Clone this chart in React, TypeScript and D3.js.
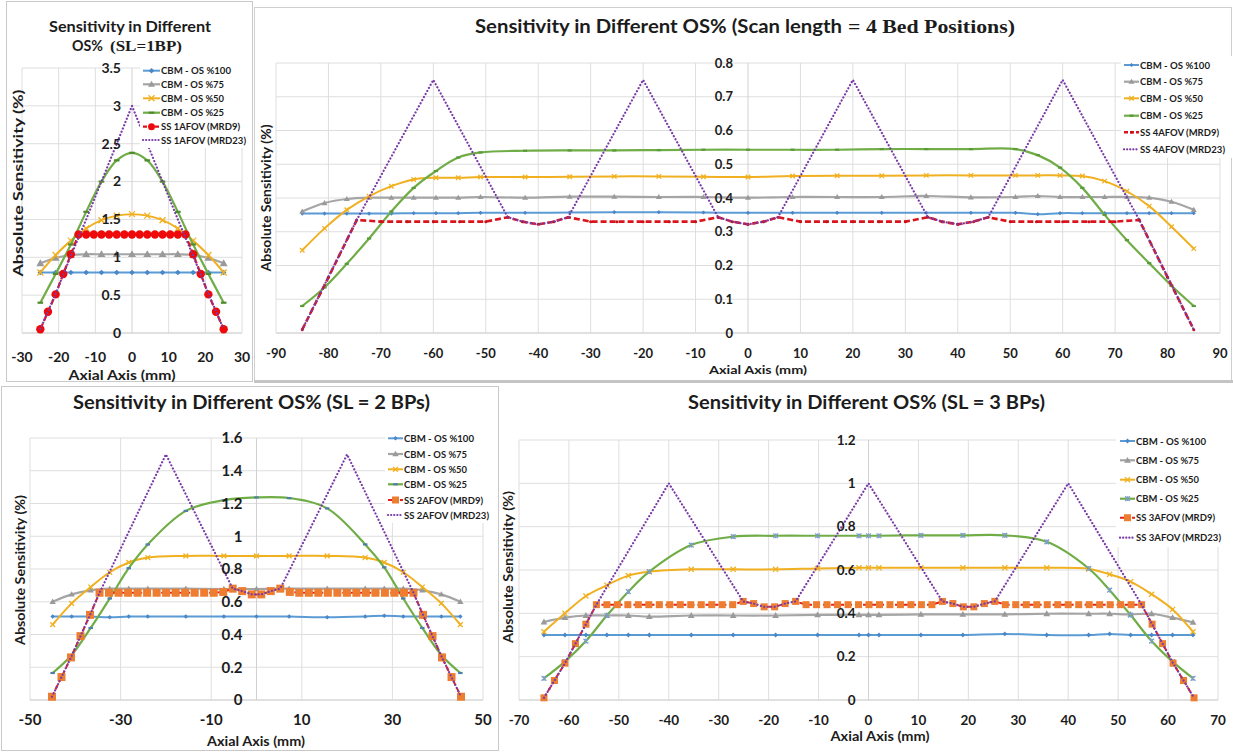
import React from "react"
import * as d3 from "d3"

// ---- panel 1: SL = 1 BP ----
const P1_X = [-25, -20.83, -16.67, -12.5, -8.33, -4.17, 0, 4.17, 8.33, 12.5, 16.67, 20.83, 25]
const P1_OS100 = [0.8, 0.8, 0.8, 0.8, 0.8, 0.8, 0.8, 0.8, 0.8, 0.8, 0.8, 0.8, 0.8]
const P1_OS75 = [0.92, 0.99, 1.03, 1.04, 1.04, 1.04, 1.04, 1.04, 1.04, 1.04, 1.03, 0.99, 0.92]
const P1_OS50 = [0.8, 1.03, 1.22, 1.38, 1.49, 1.55, 1.57, 1.55, 1.49, 1.38, 1.22, 1.03, 0.8]
const P1_OS25 = [0.4, 0.78, 1.17, 1.6, 2.0, 2.28, 2.38, 2.28, 2.0, 1.6, 1.17, 0.78, 0.4]
const P1_SS_X = [-25, -22.92, -20.83, -18.75, -16.67, -14.58, -12.5, -10.42, -8.33, -6.25, -4.17, -2.08, 0,
  2.08, 4.17, 6.25, 8.33, 10.42, 12.5, 14.58, 16.67, 18.75, 20.83, 22.92, 25]
const P1_MRD9 = [0.05, 0.28, 0.51, 0.78, 1.04, 1.3, 1.3, 1.3, 1.3, 1.3, 1.3, 1.3, 1.3,
  1.3, 1.3, 1.3, 1.3, 1.3, 1.3, 1.3, 1.04, 0.78, 0.51, 0.28, 0.05]
const P1_MRD23 = [0.05, 0.52, 1.02, 1.5, 2.0, 2.5, 3.0, 2.5, 2.0, 1.5, 1.02, 0.52, 0.05]

// ---- panel 2: 4 bed positions ----
const P2_X = [-85, -80.75, -76.5, -72.25, -68, -63.75, -59.5, -55.25, -51, -42.5, -34, -25.5, -17, -8.5, 0,
  8.5, 17, 25.5, 34, 42.5, 51, 55.25, 59.5, 63.75, 68, 72.25, 76.5, 80.75, 85]
const P2_OS100 = [0.354, 0.354, 0.354, 0.354, 0.354, 0.355, 0.355, 0.355, 0.356, 0.356, 0.357, 0.358, 0.358, 0.357, 0.356,
  0.356, 0.356, 0.356, 0.356, 0.356, 0.356, 0.352, 0.355, 0.355, 0.355, 0.355, 0.355, 0.355, 0.355]
const P2_OS75 = [0.36, 0.385, 0.397, 0.401, 0.401, 0.401, 0.401, 0.401, 0.403, 0.401, 0.404, 0.404, 0.403, 0.403, 0.401,
  0.403, 0.403, 0.403, 0.406, 0.402, 0.403, 0.406, 0.403, 0.403, 0.403, 0.403, 0.401, 0.389, 0.365]
const P2_OS50 = [0.245, 0.31, 0.365, 0.405, 0.435, 0.455, 0.46, 0.46, 0.462, 0.462, 0.463, 0.464, 0.464, 0.463, 0.462,
  0.465, 0.466, 0.466, 0.467, 0.467, 0.467, 0.467, 0.467, 0.465, 0.45, 0.42, 0.376, 0.315, 0.25]
const P2_OS25 = [0.08, 0.135, 0.205, 0.28, 0.36, 0.43, 0.48, 0.52, 0.535, 0.54, 0.541, 0.541, 0.542, 0.543, 0.543,
  0.543, 0.543, 0.545, 0.545, 0.545, 0.545, 0.527, 0.49, 0.43, 0.35, 0.275, 0.207, 0.14, 0.08]
const P2_MRD9_X = [-85, -80, -74.6, -70, -65, -60, -55, -50, -45.8, -43, -40, -37, -34.3, -30, -25, -20, -15, -10,
  -5.7, -3, 0, 3, 5.7, 10, 15, 20, 25, 30, 34.3, 37, 40, 43, 45.8, 50, 55, 60, 65, 70, 74.6, 80, 85]
const P2_MRD9 = [0.01, 0.165, 0.335, 0.33, 0.33, 0.33, 0.33, 0.33, 0.343, 0.33, 0.322, 0.33, 0.343, 0.33, 0.33, 0.33, 0.33, 0.33,
  0.343, 0.33, 0.322, 0.33, 0.343, 0.33, 0.33, 0.33, 0.33, 0.33, 0.343, 0.33, 0.322, 0.33, 0.343, 0.33, 0.33, 0.33, 0.33, 0.33, 0.335, 0.165, 0.01]
const P2_MRD23_X = [-85, -74.6, -60, -45.8, -43, -40, -37, -34.3, -20, -5.7, -3, 0, 3, 5.7, 20, 34.3, 37, 40, 43, 45.8, 60, 74.6, 85]
const P2_MRD23 = [0.01, 0.335, 0.75, 0.343, 0.33, 0.322, 0.33, 0.343, 0.75, 0.343, 0.33, 0.322, 0.33, 0.343, 0.75,
  0.343, 0.33, 0.322, 0.33, 0.343, 0.75, 0.335, 0.01]

// ---- panel 3: SL = 2 BPs ----
const P3_X = [-45, -40.8, -36.6, -32.4, -28.2, -24, -15.6, -7.2, 0, 7.2, 15.6, 24, 28.2, 32.4, 36.6, 40.8, 45]
const P3_OS100 = [0.51, 0.51, 0.51, 0.505, 0.51, 0.51, 0.51, 0.51, 0.51, 0.51, 0.505, 0.51, 0.515, 0.51, 0.51, 0.51, 0.51]
const P3_OS75 = [0.6, 0.645, 0.67, 0.68, 0.68, 0.68, 0.68, 0.678, 0.678, 0.68, 0.68, 0.68, 0.68, 0.68, 0.67, 0.645, 0.6]
const P3_OS50 = [0.46, 0.59, 0.69, 0.78, 0.84, 0.87, 0.88, 0.88, 0.88, 0.88, 0.88, 0.87, 0.84, 0.78, 0.69, 0.59, 0.46]
const P3_OS25 = [0.165, 0.275, 0.44, 0.62, 0.805, 0.95, 1.155, 1.22, 1.237, 1.233, 1.17, 0.95, 0.81, 0.62, 0.44, 0.275, 0.165]
const P3_MRD9_X = [-45.15, -43.05, -40.95, -38.85, -36.75, -34.65, -32.55, -30.45, -28.35, -26.25, -24.15, -22.05,
  -19.95, -17.85, -15.75, -13.65, -11.55, -9.45, -7.35, -5.25, -3.15, -1.05, 1.05, 3.15, 5.25, 7.35, 9.45, 11.55,
  13.65, 15.75, 17.85, 19.95, 22.05, 24.15, 26.25, 28.35, 30.45, 32.55, 34.65, 36.75, 38.85, 40.95, 43.05, 45.15]
const P3_MRD9 = [0.02, 0.14, 0.26, 0.39, 0.52, 0.655, 0.655, 0.655, 0.655, 0.655, 0.655, 0.655,
  0.655, 0.655, 0.655, 0.655, 0.655, 0.655, 0.66, 0.68, 0.665, 0.645, 0.645, 0.665, 0.68, 0.66, 0.655, 0.655,
  0.655, 0.655, 0.655, 0.655, 0.655, 0.655, 0.655, 0.655, 0.655, 0.655, 0.655, 0.52, 0.39, 0.26, 0.14, 0.02]
const P3_MRD23_X = [-45.15, -43.05, -40.95, -38.85, -36.75, -34.65, -20, -5.25, -3.15, -1.05, 1.05, 3.15, 5.25, 20,
  34.65, 36.75, 38.85, 40.95, 43.05, 45.15]
const P3_MRD23 = [0.02, 0.14, 0.26, 0.39, 0.52, 0.655, 1.5, 0.68, 0.665, 0.645, 0.645, 0.665, 0.68, 1.5,
  0.655, 0.52, 0.39, 0.26, 0.14, 0.02]

// ---- panel 4: SL = 3 BPs ----
const P4_X = [-65, -60.8, -56.6, -52.4, -48.1, -43.9, -35.5, -27.1, -18.6, -10.2, -1.9, 0, 2.1, 10.5, 18.9, 27.3,
  35.7, 44.1, 48.3, 52.5, 56.7, 60.9, 65]
const P4_OS100 = [0.3, 0.3, 0.3, 0.3, 0.3, 0.3, 0.3, 0.3, 0.3, 0.3, 0.3, 0.3, 0.3, 0.3, 0.3, 0.305,
  0.3, 0.3, 0.305, 0.3, 0.3, 0.3, 0.3]
const P4_OS75 = [0.36, 0.38, 0.39, 0.39, 0.39, 0.385, 0.39, 0.39, 0.39, 0.393, 0.393, 0.393, 0.393, 0.395, 0.395, 0.395,
  0.398, 0.398, 0.398, 0.395, 0.398, 0.38, 0.358]
const P4_OS50 = [0.315, 0.4, 0.48, 0.53, 0.574, 0.592, 0.603, 0.603, 0.603, 0.607, 0.61, 0.61, 0.61, 0.61, 0.61, 0.61,
  0.61, 0.605, 0.58, 0.546, 0.488, 0.418, 0.315]
const P4_OS25 = [0.1, 0.177, 0.272, 0.39, 0.5, 0.592, 0.715, 0.754, 0.758, 0.758, 0.758, 0.758, 0.758, 0.76, 0.76, 0.76,
  0.73, 0.607, 0.507, 0.392, 0.272, 0.177, 0.1]
const P4_MRD9_X = [-65, -62.9, -60.8, -58.7, -56.6, -54.5, -52.4, -50.3, -48.2, -46.1, -44, -41.9, -39.8, -37.7, -35.6,
  -33.5, -31.4, -29.3, -27.2, -25.1, -23, -20.9, -18.8, -16.7, -14.6, -12.5, -10.4, -8.3, -6.2, -4.1, -2, 0.1, 2.2,
  4.3, 6.4, 8.5, 10.6, 12.7, 14.8, 16.9, 19, 21.1, 23.2, 25.3, 27.4, 29.5, 31.6, 33.7, 35.8, 37.9, 40, 42.1, 44.2,
  46.3, 48.4, 50.5, 52.6, 54.7, 56.8, 58.9, 61, 63.1, 65.2]
const P4_MRD9 = [0.01, 0.09, 0.17, 0.26, 0.35, 0.44, 0.44, 0.44, 0.44, 0.44, 0.44, 0.44, 0.44, 0.44, 0.44,
  0.44, 0.44, 0.44, 0.44, 0.455, 0.445, 0.43, 0.43, 0.445, 0.455, 0.44, 0.44, 0.44, 0.44, 0.44, 0.44, 0.44, 0.44,
  0.44, 0.44, 0.44, 0.44, 0.44, 0.455, 0.445, 0.43, 0.43, 0.445, 0.455, 0.44, 0.44, 0.44, 0.44, 0.44, 0.44, 0.44, 0.44, 0.44,
  0.44, 0.44, 0.44, 0.44, 0.44, 0.35, 0.26, 0.17, 0.09, 0.01]
const P4_MRD23_X = [-65, -62.9, -60.8, -58.7, -56.6, -54.5, -40, -25.1, -23, -20.9, -18.8, -16.7, -14.6, 0,
  14.8, 16.9, 19, 21.1, 23.2, 25.3, 40, 54.7, 56.8, 58.9, 61, 63.1, 65.2]
const P4_MRD23 = [0.01, 0.09, 0.17, 0.26, 0.35, 0.44, 1.0, 0.455, 0.445, 0.43, 0.43, 0.445, 0.455, 1.0,
  0.455, 0.445, 0.43, 0.43, 0.445, 0.455, 1.0, 0.44, 0.35, 0.26, 0.17, 0.09, 0.01]

const CBM_LABELS = ["CBM - OS %100", "CBM - OS %75", "CBM - OS %50", "CBM - OS %25"]

const SANS = "Lato, 'Open Sans', 'Liberation Sans', sans-serif"
const SERIF = "'Liberation Serif', 'DejaVu Serif', serif"
const INK = "#1c1c1c"
const GRID = "#dedede"
// legend label widths as measured on the reference
const LEGEND_W = [70, 63, 63, 63, 79, 85]

type MarkKind = "diamond" | "triangle" | "cross" | "dash" | "circle" | "square" | "star" | "none"

type Series = {
  label: string
  xs: number[]
  ys: number[]
  color: string
  width: number
  dash?: string
  smooth?: boolean
  mark: MarkKind
  mColor: string
  mSize: number
}

function Mark({ kind, cx, cy, color, s }: { kind: MarkKind; cx: number; cy: number; color: string; s: number }) {
  if (kind === "diamond")
    return <path d={`M${cx},${cy - s}L${cx + s},${cy}L${cx},${cy + s}L${cx - s},${cy}Z`} fill={color} />
  if (kind === "triangle")
    return <path d={`M${cx},${cy - s}L${cx + s},${cy + s * 0.7}L${cx - s},${cy + s * 0.7}Z`} fill={color} />
  if (kind === "cross")
    return (
      <path d={`M${cx - s},${cy - s}L${cx + s},${cy + s}M${cx - s},${cy + s}L${cx + s},${cy - s}`}
        stroke={color} strokeWidth={1.3} />
    )
  if (kind === "dash") return <rect x={cx - s} y={cy - 1.1} width={2 * s} height={2.2} fill={color} />
  if (kind === "circle") return <circle cx={cx} cy={cy} r={s} fill={color} />
  if (kind === "square") return <rect x={cx - s} y={cy - s} width={2 * s} height={2 * s} fill={color} />
  if (kind === "star")
    return (
      <path d={`M${cx - s},${cy - s}L${cx + s},${cy + s}M${cx - s},${cy + s}L${cx + s},${cy - s}M${cx},${cy - s}L${cx},${cy + s}`}
        stroke={color} strokeWidth={1.3} />
    )
  return null
}

type PanelProps = {
  xDomain: [number, number]
  xRange: [number, number]
  yDomain: [number, number]
  yRange: [number, number]
  xTicks: number[]
  xGrid: number[]
  yTicks: number[]
  tick: number
  yGap: number
  xLabelY: number
  series: Series[]
  legend: { x: number; len: number; rows: number[]; size: number; box: [number, number, number, number] }
}

function Panel(p: PanelProps) {
  const x = d3.scaleLinear().domain(p.xDomain).range(p.xRange)
  const y = d3.scaleLinear().domain(p.yDomain).range(p.yRange)
  const [xa, xb] = p.xRange
  const [ya, yb] = p.yRange
  const fmt = (v: number) => String(Math.round(v * 10) / 10)
  const lg = p.legend
  return (
    <g>
      {p.yTicks.map(t => (
        <line key={"gy" + t} x1={xa} x2={xb} y1={y(t)} y2={y(t)} stroke={GRID} strokeWidth={1} />
      ))}
      {p.xGrid.map(t => (
        <line key={"gx" + t} x1={x(t)} x2={x(t)} y1={ya} y2={yb} stroke={GRID} strokeWidth={1} />
      ))}
      <line x1={x(0)} x2={x(0)} y1={ya} y2={yb} stroke="#d2d2d2" />
      <line x1={xa} x2={xb} y1={ya} y2={ya} stroke="#d2d2d2" />
      {p.series.map(s => {
        const pts = s.xs.map((v, i) => [v, s.ys[i]] as [number, number])
        const gen = d3
          .line<[number, number]>()
          .x(d => x(d[0]))
          .y(d => y(d[1]))
          .curve(s.smooth ? d3.curveCatmullRom.alpha(0.5) : d3.curveLinear)
        return (
          <g key={s.label}>
            <path d={gen(pts) || ""} fill="none" stroke={s.color} strokeWidth={s.width}
              strokeDasharray={s.dash} strokeLinecap={s.dash && s.dash.startsWith("0.") ? "round" : "butt"} />
            {pts.map((d, i) => (
              <Mark key={i} kind={s.mark} cx={x(d[0])} cy={y(d[1])} color={s.mColor} s={s.mSize} />
            ))}
          </g>
        )
      })}
      {p.yTicks.map(t => (
        <text key={"ty" + t} x={x(0) - p.yGap} y={y(t)} dy="0.35em" textAnchor="end" fontSize={p.tick} fill={INK}>
          {fmt(t)}
        </text>
      ))}
      {p.xTicks.map(t => (
        <text key={"tx" + t} x={x(t)} y={p.xLabelY} textAnchor="middle" fontSize={p.tick} fill={INK}>
          {fmt(t)}
        </text>
      ))}
      <rect x={lg.box[0]} y={lg.box[1]} width={lg.box[2]} height={lg.box[3]} fill="#fff" />
      {p.series.map((s, i) => {
        const ry = lg.rows[i]
        return (
          <g key={"lg" + s.label}>
            <line x1={lg.x} x2={lg.x + lg.len} y1={ry} y2={ry} stroke={s.color} strokeWidth={s.width}
              strokeDasharray={s.dash ? (s.dash.startsWith("0.") ? "0.1,3" : "4,2") : undefined}
              strokeLinecap={s.dash && s.dash.startsWith("0.") ? "round" : "butt"} />
            <Mark kind={s.mark} cx={lg.x + lg.len / 2} cy={ry} color={s.mColor} s={Math.min(s.mSize, 3.5)} />
            <text x={lg.x + lg.len + 1} y={ry} dy="0.36em" fontSize={lg.size} fill={INK}
              textLength={LEGEND_W[i]} lengthAdjust="spacingAndGlyphs">
              {s.label}
            </text>
          </g>
        )
      })}
    </g>
  )
}

function cbm(xs: number[], vals: number[][], green: MarkKind, greenColor: string, scale: number): Series[] {
  return [
    { label: CBM_LABELS[0], xs, ys: vals[0], color: "#5b9bd5", width: 2, smooth: true, mark: "diamond", mColor: "#4a87c6", mSize: 2.8 * scale },
    { label: CBM_LABELS[1], xs, ys: vals[1], color: "#a5a5a5", width: 2.2, smooth: true, mark: "triangle", mColor: "#9a9a9a", mSize: 4 * scale },
    { label: CBM_LABELS[2], xs, ys: vals[2], color: "#f0b020", width: 2, smooth: true, mark: "cross", mColor: "#f0b020", mSize: 3 * scale },
    { label: CBM_LABELS[3], xs, ys: vals[3], color: "#70ad47", width: 2.2, smooth: true, mark: green, mColor: greenColor, mSize: 2.8 * scale },
  ]
}

const PURPLE = "#7a3aa8"

const panel1: PanelProps = {
  xDomain: [-30, 30], xRange: [22, 242], yDomain: [0, 3.5], yRange: [333, 68],
  xTicks: [-30, -20, -10, 0, 10, 20, 30], xGrid: [-30, -20, -10, 10, 20, 30],
  yTicks: [0, 0.5, 1, 1.5, 2, 2.5, 3, 3.5], tick: 14, yGap: 11, xLabelY: 362,
  series: [
    ...cbm(P1_X, [P1_OS100, P1_OS75, P1_OS50, P1_OS25], "dash", "#4f8a2e", 1),
    { label: "SS 1AFOV (MRD9)", xs: P1_SS_X, ys: P1_MRD9, color: "#e4101a", width: 2.2, dash: "6,3", mark: "circle", mColor: "#ee0a0a", mSize: 4.2 },
    { label: "SS 1AFOV (MRD23)", xs: P1_X, ys: P1_MRD23, color: PURPLE, width: 2.2, dash: "0.1,3.4", mark: "none", mColor: PURPLE, mSize: 0 },
  ],
  legend: { x: 143, len: 17, rows: [70.7, 84.3, 98.3, 112.7, 126.7, 140], size: 10.3, box: [140, 63, 112, 85] },
}

const panel2: PanelProps = {
  xDomain: [-90, 90], xRange: [276, 1220], yDomain: [0, 0.8], yRange: [333, 63],
  xTicks: [-90, -80, -70, -60, -50, -40, -30, -20, -10, 0, 10, 20, 30, 40, 50, 60, 70, 80, 90],
  xGrid: [-90, -80, -70, -60, -50, -40, -30, -20, -10, 10, 20, 30, 40, 50, 60, 70, 80, 90],
  yTicks: [0, 0.1, 0.2, 0.3, 0.4, 0.5, 0.6, 0.7, 0.8], tick: 13, yGap: 15, xLabelY: 358,
  series: [
    ...cbm(P2_X, [P2_OS100, P2_OS75, P2_OS50, P2_OS25], "dash", "#5a9a3a", 0.75),
    { label: "SS 4AFOV (MRD9)", xs: P2_MRD9_X, ys: P2_MRD9, color: "#d9141c", width: 2.6, dash: "6,3", mark: "circle", mColor: "#c81018", mSize: 1.5 },
    { label: "SS 4AFOV (MRD23)", xs: P2_MRD23_X, ys: P2_MRD23, color: PURPLE, width: 2.2, dash: "0.1,3.4", mark: "none", mColor: PURPLE, mSize: 0 },
  ],
  legend: { x: 1124, len: 15, rows: [65, 81.7, 98.3, 115.7, 132.3, 149.3], size: 10, box: [1121, 56, 112, 102] },
}

const panel3: PanelProps = {
  xDomain: [-50, 50], xRange: [30, 483], yDomain: [0, 1.6], yRange: [700, 438],
  xTicks: [-50, -30, -10, 10, 30, 50], xGrid: [-50, -30, -10, 10, 30, 50],
  yTicks: [0, 0.2, 0.4, 0.6, 0.8, 1, 1.2, 1.4, 1.6], tick: 15, yGap: 14, xLabelY: 725,
  series: [
    ...cbm(P3_X, [P3_OS100, P3_OS75, P3_OS50, P3_OS25], "dash", "#4f7fa8", 0.8),
    { label: "SS 2AFOV (MRD9)", xs: P3_MRD9_X, ys: P3_MRD9, color: "#e8201a", width: 2, dash: "5,3", mark: "square", mColor: "#ed7d31", mSize: 4 },
    { label: "SS 2AFOV (MRD23)", xs: P3_MRD23_X, ys: P3_MRD23, color: PURPLE, width: 2.2, dash: "0.1,3.4", mark: "none", mColor: PURPLE, mSize: 0 },
  ],
  legend: { x: 388, len: 15, rows: [438.3, 454, 469.3, 484.3, 500, 515], size: 10.3, box: [385, 430, 112, 93] },
}

const panel4: PanelProps = {
  xDomain: [-70, 70], xRange: [519, 1218], yDomain: [0, 1.2], yRange: [700, 440],
  xTicks: [-70, -60, -50, -40, -30, -20, -10, 0, 10, 20, 30, 40, 50, 60, 70],
  xGrid: [-70, -60, -50, -40, -30, -20, -10, 10, 20, 30, 40, 50, 60, 70],
  yTicks: [0, 0.2, 0.4, 0.6, 0.8, 1, 1.2], tick: 13.5, yGap: 13, xLabelY: 725,
  series: [
    ...cbm(P4_X, [P4_OS100, P4_OS75, P4_OS50, P4_OS25], "star", "#7d9fc6", 0.85),
    { label: "SS 3AFOV (MRD9)", xs: P4_MRD9_X, ys: P4_MRD9, color: "#e8201a", width: 2, dash: "5,3", mark: "square", mColor: "#ed7d31", mSize: 3.5 },
    { label: "SS 3AFOV (MRD23)", xs: P4_MRD23_X, ys: P4_MRD23, color: PURPLE, width: 2.2, dash: "0.1,3.4", mark: "none", mColor: PURPLE, mSize: 0 },
  ],
  legend: { x: 1120, len: 15, rows: [441, 460.3, 479.7, 498.7, 517.7, 537.7], size: 10, box: [1116, 432, 117, 115] },
}

function YTitle({ x, cy, len, size }: { x: number; cy: number; len: number; size: number }) {
  return (
    <text transform={`translate(${x},${cy}) rotate(-90)`} textAnchor="middle" fontSize={size} fill={INK}
      textLength={len} lengthAdjust="spacingAndGlyphs">
      Absolute Sensitivity (%)
    </text>
  )
}

function XTitle({ cx, y, len, size }: { cx: number; y: number; len: number; size: number }) {
  return (
    <text x={cx} y={y} textAnchor="middle" fontSize={size} fill={INK} textLength={len} lengthAdjust="spacingAndGlyphs">
      Axial Axis (mm)
    </text>
  )
}

export default function App() {
  return (
    <svg width={1233} height={752} style={{ position: "absolute", left: 0, top: 0, background: "#fff" }}
      fontFamily={SANS} fontWeight="bold">
      <rect x={0} y={0} width={1233} height={752} fill="#fff" />
      {/* frames */}
      <rect x={6.5} y={1.5} width={246} height={380} fill="none" stroke="#c9c9c9" />
      <rect x={254.5} y={7.5} width={977} height={373} fill="none" stroke="#cfcfcf" />
      <line x1={254} x2={1233} y1={381.5} y2={381.5} stroke="#c4c4c4" strokeWidth={3} />
      <rect x={1.5} y={386.5} width={497} height={364} fill="none" stroke="#c9c9c9" />

      <Panel {...panel1} />
      <Panel {...panel2} />
      <Panel {...panel3} />
      <Panel {...panel4} />

      {/* titles */}
      <text x={49} y={31.5} fontSize={15.5} fill={INK} textLength={162} lengthAdjust="spacingAndGlyphs">
        Sensitivity in Different
      </text>
      <text x={72} y={51} fontSize={15.5} fill={INK} textLength={31} lengthAdjust="spacingAndGlyphs">OS%</text>
      <text x={110} y={51} fontSize={15.5} fontFamily={SERIF} fill={INK} textLength={72} lengthAdjust="spacingAndGlyphs">
        (SL=1BP)
      </text>

      <text x={475} y={32.5} fontSize={18} fill={INK} textLength={367} lengthAdjust="spacingAndGlyphs">
        Sensitivity in Different OS%  (Scan length
      </text>
      <text x={848} y={32.5} fontSize={18} fontFamily={SERIF} fill={INK} textLength={167} lengthAdjust="spacingAndGlyphs">
        = 4 Bed Positions)
      </text>

      <text x={73} y={408.5} fontSize={19} fill={INK} textLength={357} lengthAdjust="spacingAndGlyphs">
        Sensitivity in Different OS%  (SL = 2 BPs)
      </text>
      <text x={688} y={408.5} fontSize={18} fill={INK} textLength={357} lengthAdjust="spacingAndGlyphs">
        Sensitivity in Different OS%  (SL = 3 BPs)
      </text>

      {/* axis titles */}
      <XTitle cx={122} y={380} len={107} size={13} />
      <XTitle cx={758} y={374} len={98} size={12} />
      <XTitle cx={256} y={746} len={98} size={14} />
      <XTitle cx={880} y={741} len={99} size={13} />
      <YTitle x={23} cy={183} len={187} size={14} />
      <YTitle x={271} cy={198} len={147} size={12.5} />
      <YTitle x={25} cy={570} len={150} size={13.5} />
      <YTitle x={513} cy={567} len={152} size={13.5} />
    </svg>
  )
}
